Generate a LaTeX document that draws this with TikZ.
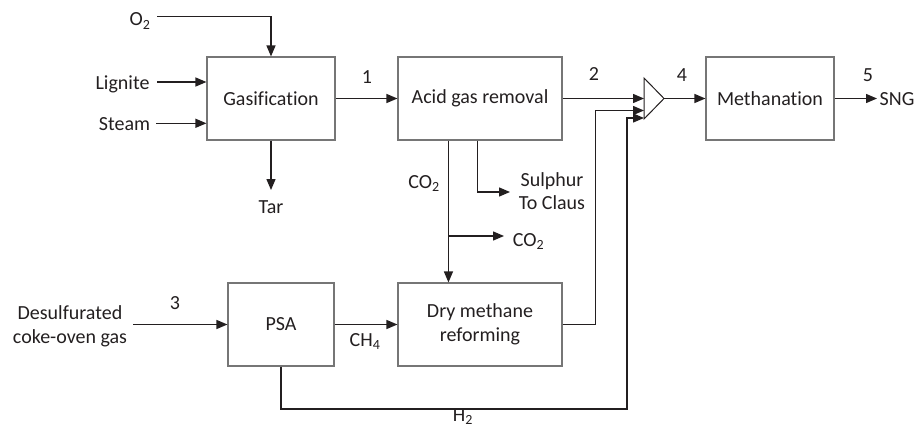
\documentclass[tikz,border=0pt]{standalone}
\usepackage{fontspec}
\setmainfont{Carlito}[Ligatures=NoCommon]
\usetikzlibrary{arrows.meta}
\definecolor{txt}{HTML}{231F20}
\definecolor{linec}{HTML}{231F20}
\definecolor{boxc}{HTML}{767676}
\begin{document}
\begin{tikzpicture}[x=1pt,y=-1pt,
  font=\fontsize{20}{23.5}\selectfont,
  every node/.style={text=txt},
  box/.style={draw=boxc, line width=1.1pt, align=center, inner sep=0pt},
  lbl/.style={anchor=base, inner sep=0pt},
  arr/.style={draw=linec, line width=1.3pt, -{Triangle[length=11pt,width=9pt]}},
  mix/.style={draw=linec, line width=1pt}]
\useasboundingbox (0,0) rectangle (919,428);

% process boxes
\node[box, minimum width=128pt, minimum height=83pt] (gas) at (271,98.5) {Gasification};
\node[box, minimum width=164pt, minimum height=83pt] (acid) at (480,98.5) {Acid gas removal};
\node[box, minimum width=128pt, minimum height=83pt] (meth) at (770,98.5) {Methanation};
\node[box, minimum width=106pt, minimum height=83pt] (psa) at (281,324.5) {PSA};
\node[box, minimum width=164pt, minimum height=83pt] (dmr) at (480,324.5) {Dry methane\\reforming};

% mixer
\coordinate (mA) at (644,78);
\coordinate (mB) at (644,119);
\coordinate (mT) at (664,98.5);
\draw[mix] (mA) -- (mB) -- (mT) -- cycle;

% inputs to gasification
\node[lbl] (o2) at (140,26) {O\textsubscript{2}};
\coordinate (o2s) at (157,16.7);
\draw[arr] (o2s) -| (gas.north);
\node[lbl] (lig) at (122.5,89) {Lignite};
\coordinate (ligs) at (157,82);
\draw[arr] (ligs) -- (ligs -| gas.west);
\node[lbl] (stm) at (124.5,130.5) {Steam};
\coordinate (stms) at (156,123.3);
\draw[arr] (stms) -- (stms -| gas.west);

% tar
\node[lbl] (tar) at (271,213) {Tar};
\coordinate (tare) at (271,190);
\draw[arr] (gas.south) -- (tare);

% main line
\draw[arr] (gas.east) -- (acid.west);
\node[lbl] (n1) at (367,84) {1};
\draw[arr] (acid.east) -- (acid.east -| mA);
\node[lbl] (n2) at (594,81) {2};
\draw[arr] (mT) -- (meth.west);
\node[lbl] (n4) at (682,81.5) {4};
\coordinate (snge) at (877,98.5);
\draw[arr] (meth.east) -- (snge);
\node[lbl] (n5) at (868,81.5) {5};
\node[lbl] (sng) at (897,106) {SNG};

% acid gas removal outlets
\draw[arr] ([xshift=51pt]acid.south west) -- ([xshift=51pt]dmr.north west);
\node[lbl] (co2a) at (424,188) {CO\textsubscript{2}};
\coordinate (sule) at (510,192);
\draw[arr] ([xshift=80pt]acid.south west) |- (sule);
\node[align=center, inner sep=0pt] (sul) at (552,191.25) {Sulphur\\To Claus};
\coordinate (co2j) at (449,236);
\coordinate (co2e) at (504,236);
\draw[arr] (co2j) -- (co2e);
\node[lbl] (co2b) at (528.5,246) {CO\textsubscript{2}};

% coke-oven gas
\node[align=center, inner sep=0pt] (dcg) at (70,326.5) {Desulfurated\\coke-oven gas};
\coordinate (dcgs) at (133,324.5);
\draw[arr] (dcgs) -- (psa.west);
\node[lbl] (n3) at (175,309) {3};

% PSA to DMR
\draw[arr] (psa.east) -- (dmr.west);
\node[lbl] (ch4) at (365,346.5) {CH\textsubscript{4}};

% DMR to mixer
\coordinate (m2) at (644,110.5);
\draw[arr] (dmr.east) -- ++(33,0) |- (m2);

% H2 from PSA to mixer
\coordinate (h2c) at (627,409);
\coordinate (m3) at (644,118);
\draw[arr] (psa.south) |- (h2c) |- (m3);
\node[lbl] (h2) at (463,421) {H\textsubscript{2}};
\end{tikzpicture}
\end{document}
